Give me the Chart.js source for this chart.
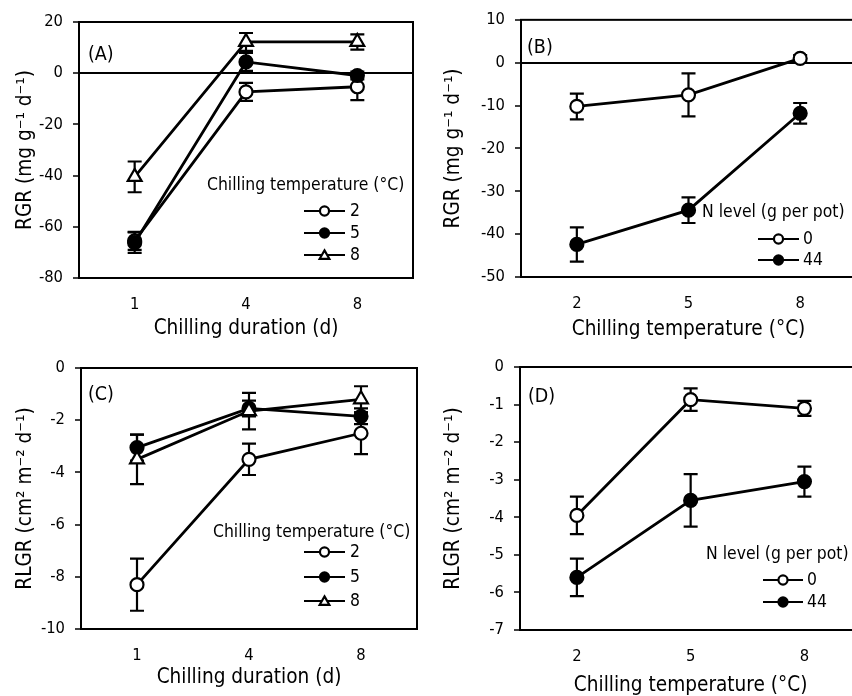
<!DOCTYPE html>
<html>
<head>
<meta charset="utf-8">
<script src="https://cdn.jsdelivr.net/npm/chart.js@4.4.0/dist/chart.umd.min.js"></script>
<style>
  html, body { margin: 0; padding: 0; background: #fff; overflow: hidden; }
  body { width: 852px; height: 696px; position: relative; }
  canvas { position: absolute; }
</style>
</head>
<body>
<canvas id="chartA" width="430" height="350" style="left:0;top:0"></canvas>
<canvas id="chartB" width="440" height="350" style="left:430px;top:0"></canvas>
<canvas id="chartC" width="430" height="351" style="left:0;top:345px"></canvas>
<canvas id="chartD" width="440" height="353" style="left:430px;top:345px"></canvas>
<script>
// Categories
const durations = ["1", "4", "8"]
const temperatures = ["2", "5", "8"]

// (A) RGR vs chilling duration, per chilling temperature
const rgrDur2 = [-65.5, -7.3, -5.3]
const rgrDur2Err = [3.5, 3.5, 5.2]
const rgrDur5 = [-66.2, 4.4, -0.9]
const rgrDur5Err = [4, 3.5, 1.5]
const rgrDur8 = [-40.5, 12.2, 12.2]
const rgrDur8Err = [6, 3.5, 3]

// (B) RGR vs chilling temperature, per N level
const rgrN0 = [-10.2, -7.5, 1.0]
const rgrN0Err = [3, 5, 0.8]
const rgrN44 = [-42.4, -34.4, -11.8]
const rgrN44Err = [4, 3, 2.4]

// (C) RLGR vs chilling duration, per chilling temperature
const rlgrDur2 = [-8.3, -3.5, -2.5]
const rlgrDur2Err = [1.0, 0.6, 0.8]
const rlgrDur5 = [-3.05, -1.55, -1.85]
const rlgrDur5Err = [0.5, 0.3, 0.3]
const rlgrDur8 = [-3.5, -1.65, -1.2]
const rlgrDur8Err = [0.95, 0.7, 0.5]

// (D) RLGR vs chilling temperature, per N level
const rlgrN0 = [-3.95, -0.87, -1.1]
const rlgrN0Err = [0.5, 0.3, 0.2]
const rlgrN44 = [-5.6, -3.55, -3.05]
const rlgrN44Err = [0.5, 0.7, 0.4]

const FONT = "'DejaVu Sans Condensed', 'DejaVu Sans', Verdana, sans-serif"
Chart.defaults.font.family = FONT
Chart.defaults.color = "#000"

// Series styles
function openCircle(label, data, err) {
  return { label, data, errorBars: err, pointStyle: "circle", pointRadius: 6.5,
    backgroundColor: "#fff", pointBackgroundColor: "#fff" }
}
function filledCircle(label, data, err) {
  return { label, data, errorBars: err, pointStyle: "circle", pointRadius: 6.5,
    backgroundColor: "#000", pointBackgroundColor: "#000" }
}
function openTriangle(label, data, err) {
  return { label, data, errorBars: err, pointStyle: "triangle", pointRadius: 8,
    backgroundColor: "#fff", pointBackgroundColor: "#fff" }
}

// Draw error bars under the lines and markers
const errorBarPlugin = {
  id: "errorBars",
  beforeDatasetsDraw(chart) {
    const ctx = chart.ctx
    const yScale = chart.scales.y
    ctx.save()
    ctx.strokeStyle = "#000"
    ctx.lineWidth = 2.2
    chart.data.datasets.forEach((ds, i) => {
      const meta = chart.getDatasetMeta(i)
      meta.data.forEach((pt, j) => {
        const top = yScale.getPixelForValue(ds.data[j] + ds.errorBars[j])
        const bot = yScale.getPixelForValue(ds.data[j] - ds.errorBars[j])
        ctx.beginPath()
        ctx.moveTo(pt.x, top)
        ctx.lineTo(pt.x, bot)
        ctx.moveTo(pt.x - 7, top)
        ctx.lineTo(pt.x + 7, top)
        ctx.moveTo(pt.x - 7, bot)
        ctx.lineTo(pt.x + 7, bot)
        ctx.stroke()
      })
    })
    ctx.restore()
  }
}

// Legend markers are a bit smaller than the plotted ones
function drawMarker(ctx, ds, x, y) {
  const r = ds.pointRadius * 0.7
  ctx.beginPath()
  if (ds.pointStyle === "triangle") {
    for (let k = 0; k < 3; k++) {
      const a = k * 2 * Math.PI / 3
      const px = x + Math.sin(a) * r
      const py = y + 1 - Math.cos(a) * r
      if (k === 0) ctx.moveTo(px, py)
      else ctx.lineTo(px, py)
    }
    ctx.closePath()
  } else {
    ctx.arc(x, y, r, 0, Math.PI * 2)
  }
  ctx.fillStyle = ds.pointBackgroundColor
  ctx.fill()
  ctx.stroke()
}

// Frame, panel letter and the legend block
const framePlugin = {
  id: "frame",
  afterDraw(chart, args, opts) {
    const ctx = chart.ctx
    const a = chart.chartArea
    ctx.save()
    ctx.strokeStyle = "#000"
    ctx.lineWidth = 2
    ctx.strokeRect(a.left, a.top, a.right - a.left, a.bottom - a.top)

    ctx.fillStyle = "#000"
    ctx.textBaseline = "middle"
    ctx.textAlign = "left"
    ctx.font = "19.5px " + FONT
    ctx.fillText(opts.panel, opts.panelX, opts.panelY)

    const lg = opts.legend
    ctx.font = "17.4px " + FONT
    ctx.fillText(lg.title, lg.titleX, lg.titleY)
    chart.data.datasets.forEach((ds, i) => {
      const y = lg.rows[i]
      ctx.lineWidth = 2.2
      ctx.beginPath()
      ctx.moveTo(lg.lineX1, y)
      ctx.lineTo(lg.lineX2, y)
      ctx.stroke()
      drawMarker(ctx, ds, (lg.lineX1 + lg.lineX2) / 2, y)
      ctx.fillStyle = "#000"
      ctx.fillText(ds.label, lg.textX, y)
    })
    ctx.restore()
  }
}

function makeChart(id, cfg) {
  const datasets = cfg.datasets.map((ds, i) => Object.assign({
    borderColor: "#000",
    borderWidth: 2.8,
    pointBorderColor: "#000",
    pointBorderWidth: 2.2,
    tension: 0,
    order: cfg.order ? cfg.order[i] : i
  }, ds))

  return new Chart(document.getElementById(id), {
    type: "line",
    data: { labels: cfg.labels, datasets },
    plugins: [errorBarPlugin, framePlugin],
    options: {
      responsive: false,
      animation: false,
      layout: { padding: cfg.padding },
      plugins: {
        legend: { display: false },
        tooltip: { enabled: false },
        frame: cfg.frame
      },
      scales: {
        x: {
          type: "category",
          offset: true,
          grid: { display: false, drawTicks: false },
          border: { display: true, color: "#000", width: 2 },
          ticks: { padding: 17, font: { size: 16.4 } },
          title: {
            display: true,
            text: cfg.xTitle,
            font: { size: 20.6 },
            padding: { top: 0, bottom: cfg.xTitlePad }
          },
          afterFit: (scale) => { scale.height = cfg.xHeight }
        },
        y: {
          min: cfg.yMin,
          max: cfg.yMax,
          ticks: { stepSize: cfg.yStep, padding: 10, font: { size: 16.4 } },
          grid: {
            drawOnChartArea: true,
            drawTicks: true,
            tickLength: 6,
            tickColor: "#000",
            tickWidth: 1.5,
            lineWidth: 2,
            color: (c) => (cfg.zeroLine && c.tick && c.tick.value === 0 ? "#000" : "rgba(0,0,0,0)")
          },
          border: { display: true, color: "#000", width: 2 },
          title: {
            display: true,
            text: cfg.yTitle,
            font: { size: 20.6 },
            padding: { top: cfg.yTitlePad, bottom: 0 }
          },
          afterFit: (scale) => { scale.width = cfg.yWidth }
        }
      }
    }
  })
}

// (A)
makeChart("chartA", {
  labels: durations,
  datasets: [
    openCircle("2", rgrDur2, rgrDur2Err),
    filledCircle("5", rgrDur5, rgrDur5Err),
    openTriangle("8", rgrDur8, rgrDur8Err)
  ],
  order: [2, 1, 0],
  padding: { top: 22, right: 17, left: 0, bottom: 0 },
  yWidth: 79, xHeight: 72, xTitlePad: 8.6, yTitlePad: 13,
  yMin: -80, yMax: 20, yStep: 20, zeroLine: true,
  xTitle: "Chilling duration (d)",
  yTitle: "RGR (mg g\u207B\u00B9 d\u207B\u00B9)",
  frame: {
    panel: "(A)", panelX: 88, panelY: 55,
    legend: { title: "Chilling temperature (\u00B0C)", titleX: 207, titleY: 185,
      rows: [211, 233, 255], lineX1: 304, lineX2: 345, textX: 350 }
  }
})

// (B)
makeChart("chartB", {
  labels: temperatures,
  datasets: [
    openCircle("0", rgrN0, rgrN0Err),
    filledCircle("44", rgrN44, rgrN44Err)
  ],
  padding: { top: 19, right: 14, left: 0, bottom: 0 },
  yWidth: 91, xHeight: 73, xTitlePad: 7.6, yTitlePad: 11.6,
  yMin: -50, yMax: 10, yStep: 10, zeroLine: true,
  xTitle: "Chilling temperature (\u00B0C)",
  yTitle: "RGR (mg g\u207B\u00B9 d\u207B\u00B9)",
  frame: {
    panel: "(B)", panelX: 97, panelY: 48,
    legend: { title: "N level (g per pot)", titleX: 272, titleY: 212,
      rows: [239, 260], lineX1: 328, lineX2: 369, textX: 373 }
  }
})

// (C)
makeChart("chartC", {
  labels: durations,
  datasets: [
    openCircle("2", rlgrDur2, rlgrDur2Err),
    filledCircle("5", rlgrDur5, rlgrDur5Err),
    openTriangle("8", rlgrDur8, rlgrDur8Err)
  ],
  order: [2, 1, 0],
  padding: { top: 23, right: 13, left: 0, bottom: 0 },
  yWidth: 81, xHeight: 67, xTitlePad: 5.6, yTitlePad: 13,
  yMin: -10, yMax: 0, yStep: 2, zeroLine: false,
  xTitle: "Chilling duration (d)",
  yTitle: "RLGR (cm\u00B2 m\u207B\u00B2 d\u207B\u00B9)",
  frame: {
    panel: "(C)", panelX: 88, panelY: 50,
    legend: { title: "Chilling temperature (\u00B0C)", titleX: 213, titleY: 187,
      rows: [207, 232, 256], lineX1: 304, lineX2: 345, textX: 350 }
  }
})

// (D)
makeChart("chartD", {
  labels: temperatures,
  datasets: [
    openCircle("0", rlgrN0, rlgrN0Err),
    filledCircle("44", rlgrN44, rlgrN44Err)
  ],
  padding: { top: 22, right: 8, left: 0, bottom: 0 },
  yWidth: 90, xHeight: 68, xTitlePad: 0, yTitlePad: 11.6,
  yMin: -7, yMax: 0, yStep: 1, zeroLine: false,
  xTitle: "Chilling temperature (\u00B0C)",
  yTitle: "RLGR (cm\u00B2 m\u207B\u00B2 d\u207B\u00B9)",
  frame: {
    panel: "(D)", panelX: 98, panelY: 52,
    legend: { title: "N level (g per pot)", titleX: 276, titleY: 209,
      rows: [235, 257], lineX1: 333, lineX2: 373, textX: 377 }
  }
})
</script>
</body>
</html>
